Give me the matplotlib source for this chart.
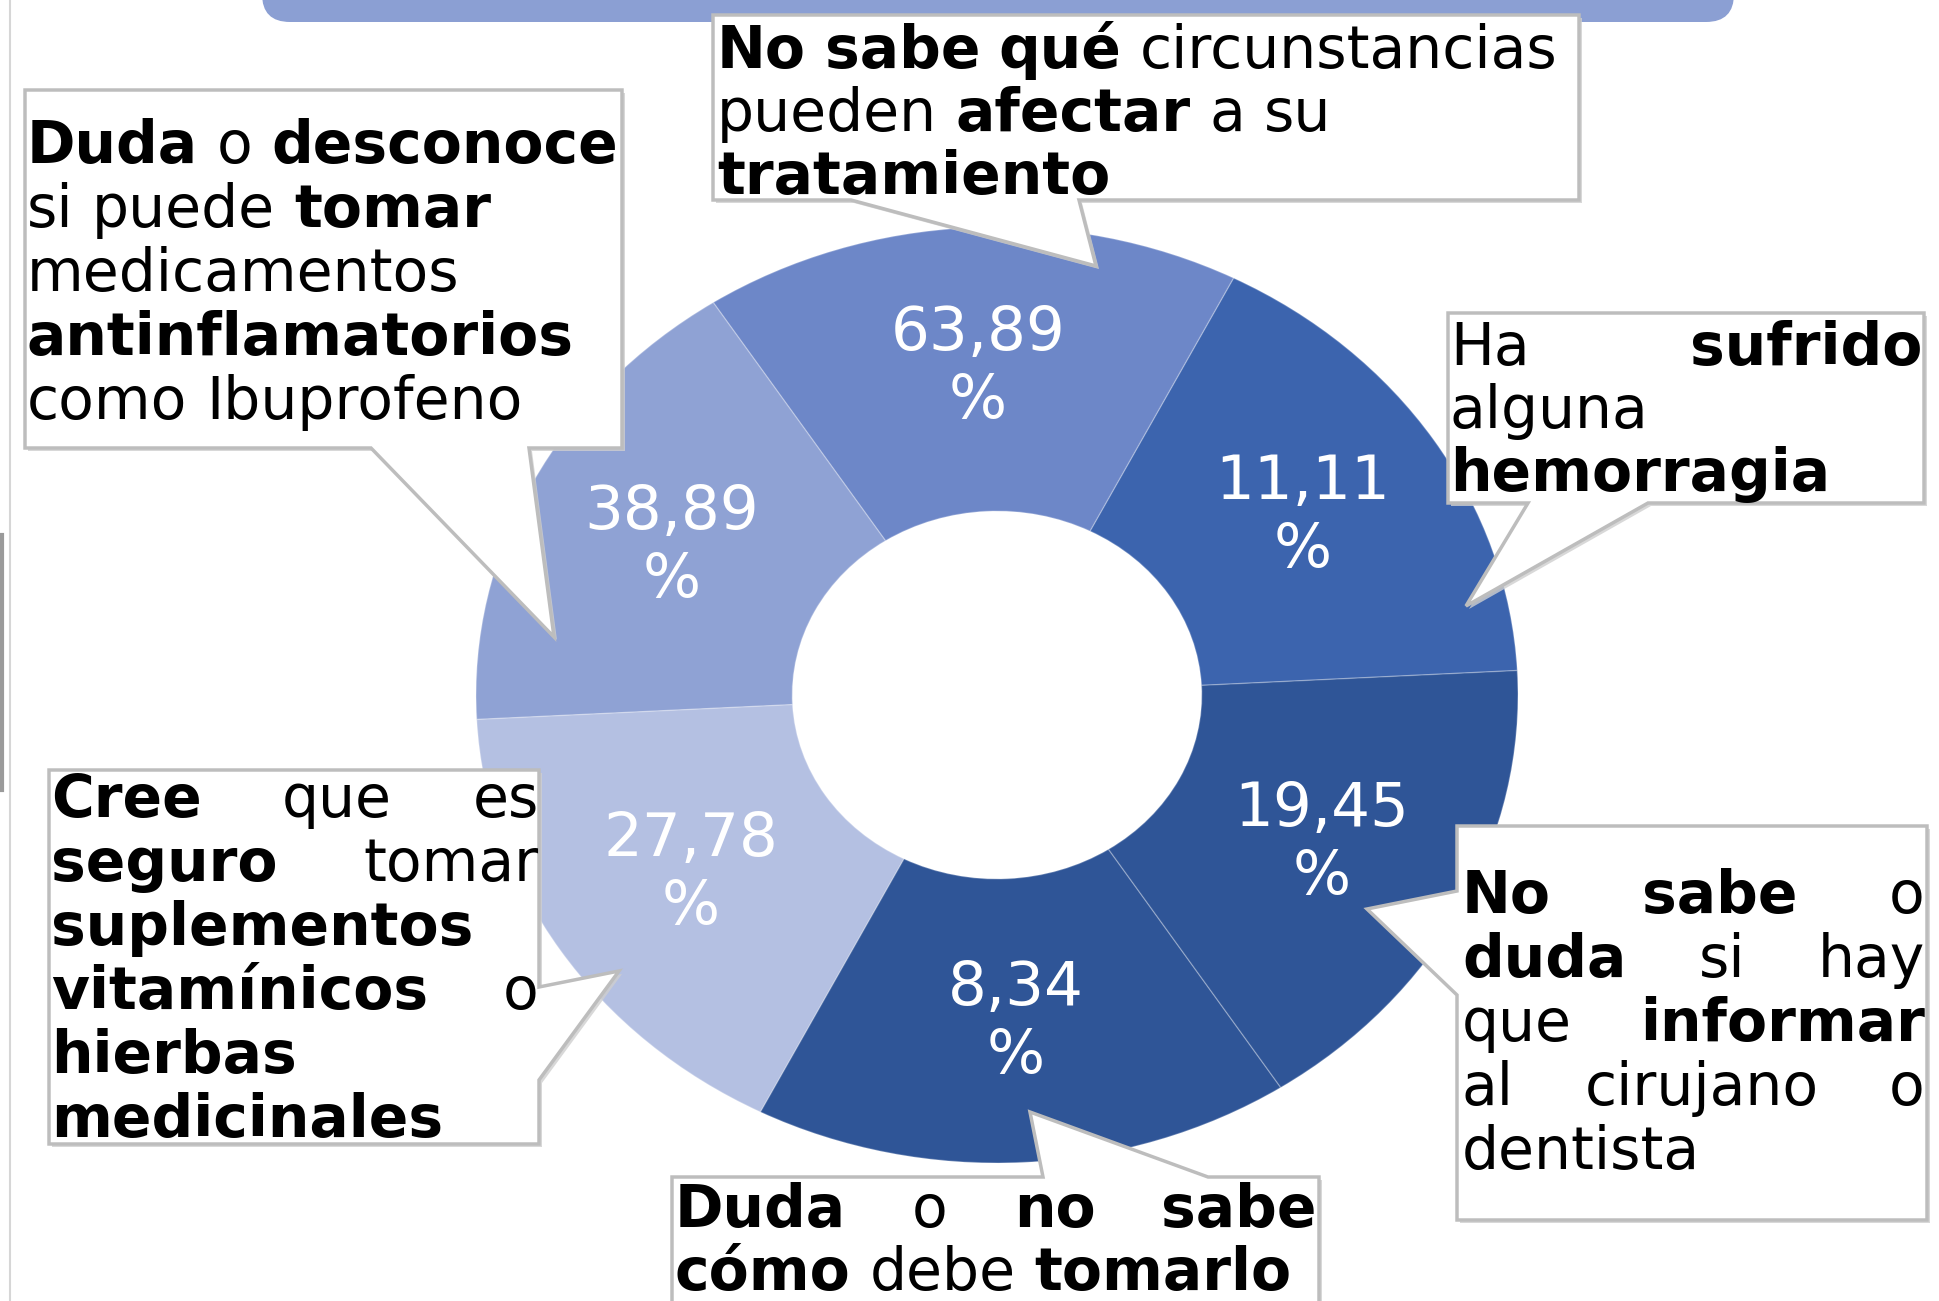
import matplotlib
matplotlib.use('Agg')
import matplotlib.pyplot as plt
from matplotlib.patches import Polygon, FancyBboxPatch

# ring: every wedge is one sixth, the label is the value
pctLabels = ['11,11', '63,89', '38,89', '27,78', '8,34', '19,45']
wedgeShares = [1, 1, 1, 1, 1, 1]
wedgeColors = ['#3C64AE', '#6D87C8', '#8FA2D4', '#B4C0E2', '#2F5597', '#2F5597']

# callout texts, *word* is bold
textTratamiento = ['*No* *sabe* *qué* circunstancias', 'pueden *afectar* a su', '*tratamiento*']
textAntinflamatorios = ['*Duda* o *desconoce*', 'si puede *tomar*', 'medicamentos',
	'*antinflamatorios*', 'como Ibuprofeno']
textHemorragia = ['Ha *sufrido*', 'alguna', '*hemorragia*']
textInformar = ['*No* *sabe* o', '*duda* si hay', 'que *informar*', 'al cirujano o', 'dentista']
textTomarlo = ['*Duda* o *no* *sabe*', '*cómo* debe *tomarlo*']
textSuplementos = ['*Cree* que es', '*seguro* tomar', '*suplementos*', '*vitamínicos* o',
	'*hierbas*', '*medicinales*']

W, H = 1940, 1301
FS = 42

plt.rcParams['font.family'] = 'DejaVu Sans'

def calloutPoly(box, side, base, tip):
	"""box outline with a speech tail, pixel coords (y down)"""
	x0, y0, x1, y1 = box
	a, b = base
	if side == 'bottom':
		return [(x0, y0), (x1, y0), (x1, y1), (b, y1), tip, (a, y1), (x0, y1)]
	if side == 'top':
		return [(x0, y0), (a, y0), tip, (b, y0), (x1, y0), (x1, y1), (x0, y1)]
	if side == 'left':
		return [(x0, y0), (x1, y0), (x1, y1), (x0, y1), (x0, b), tip, (x0, a)]
	return [(x0, y0), (x1, y0), (x1, a), tip, (x1, b), (x1, y1), (x0, y1)]

def drawLines(ax, renderer, lines, xl, xr, y, pitch, justify):
	space = FS * 100 / 72 * 0.318
	for k, line in enumerate(lines):
		words = line.split()
		texts = []
		for w in words:
			bold = w.startswith('*')
			t = ax.text(0, y, w.strip('*'), fontsize=FS, color='black',
				fontweight='bold' if bold else 'normal', ha='left', va='baseline', zorder=5)
			texts.append(t)
		widths = [t.get_window_extent(renderer).width for t in texts]
		isLast = k == len(lines) - 1
		if justify and not isLast and len(texts) > 1:
			gap = (xr - xl - sum(widths)) / (len(texts) - 1)
		else:
			gap = space
		x = xl
		for t, w in zip(texts, widths):
			t.set_x(x)
			x += w + gap
		y += pitch

fig = plt.figure(figsize=(W / 100, H / 100), dpi=100)
fig.patch.set_facecolor('white')

#
# donut, its own axes so it gets the stretched shape of the picture
axDonut = fig.add_axes([476 / W, 1 - 1163 / H, 1042 / W, 936 / H])
axDonut.pie(wedgeShares, radius=1, startangle=3, counterclock=True, colors=wedgeColors,
	labels=[p + '\n%' for p in pctLabels], labeldistance=0.70,
	wedgeprops=dict(width=0.607, edgecolor=(1, 1, 1, 0.25), linewidth=1),
	textprops=dict(color='white', fontsize=44, ha='center', va='center', linespacing=1.2))
axDonut.set_aspect('auto')
axDonut.set_xlim(-1, 1)
axDonut.set_ylim(-1, 1)
axDonut.axis('off')
axDonut.set_zorder(1)

#
# overlay in pixel coords for the callouts
ax = fig.add_axes([0, 0, 1, 1])
ax.set_xlim(0, W)
ax.set_ylim(H, 0)
ax.axis('off')
ax.patch.set_alpha(0)
ax.set_zorder(2)

# banner at top and page edges
ax.add_patch(FancyBboxPatch((262, -60), 1472, 82, boxstyle='round,pad=0,rounding_size=28',
	facecolor='#8B9FD3', edgecolor='none', zorder=1))
ax.plot([10, 10], [0, H], color='#D6D6D6', linewidth=1.5, zorder=1)
ax.plot([2, 2], [535, 790], color='#9A9A9A', linewidth=3, zorder=1)

callouts = [
	(textAntinflamatorios, (25, 90, 622, 448), 'bottom', (371, 529), (554, 637), (27, 620), 163, 64, False),
	(textTratamiento, (713, 15, 1579, 200), 'bottom', (851, 1079), (1096, 266), (717, 1577), 68, 63, False),
	(textHemorragia, (1448, 313, 1924, 503), 'bottom', (1528, 1648), (1466, 606), (1450, 1922), 365, 63, True),
	(textInformar, (1457, 826, 1927, 1220), 'left', (891, 995), (1367, 909), (1462, 1925), 913, 64, True),
	(textTomarlo, (672, 1177, 1319, 1320), 'top', (1043, 1208), (1030, 1112), (675, 1317), 1227, 63, True),
	(textSuplementos, (49, 770, 539, 1144), 'right', (987, 1080), (619, 971), (51, 539), 817, 64, True),
]

renderer = fig.canvas.get_renderer()
for lines, box, side, base, tip, (xl, xr), y, pitch, justify in callouts:
	pts = calloutPoly(box, side, base, tip)
	shadow = [(px + 3, py + 3) for px, py in pts]
	ax.add_patch(Polygon(shadow, closed=True, facecolor='#CFCFCF', edgecolor='none', alpha=0.8, zorder=2))
	ax.add_patch(Polygon(pts, closed=True, facecolor='white', edgecolor='#BDBDBD', linewidth=2.5, zorder=3))
	drawLines(ax, renderer, lines, xl, xr, y, pitch, justify)

fig.savefig('out.png', dpi=100, facecolor='white')
